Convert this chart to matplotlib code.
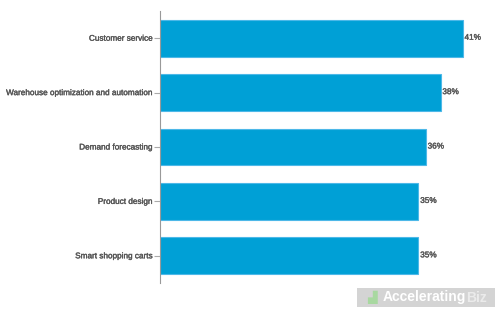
import matplotlib
matplotlib.use("Agg")
import matplotlib.pyplot as plt
import matplotlib.patheffects as pe
from matplotlib.patches import Rectangle

categories = ["Customer service", "Warehouse optimization and automation",
              "Demand forecasting", "Product design", "Smart shopping carts"]
values = [41, 38, 36, 35, 35]
labels = ["41%", "38%", "36%", "35%", "35%"]

plt.rcParams["font.family"] = ["Liberation Sans", "DejaVu Sans"]
thick = [pe.withStroke(linewidth=0.25, foreground="#555555")]

fig = plt.figure(figsize=(5.0, 3.13), dpi=100)
ax = fig.add_axes([0.32, 1 - 283/313, 0.66, (283 - 11)/313])
pos = list(range(len(categories)))
ax.barh(pos, values, height=0.68, color="#00a0d6", edgecolor="#4db8e8", linewidth=0.8)
ax.set_ylim(4.5, -0.5)
ax.set_xlim(0, 44.7)
ax.set_yticks(pos)
ax.set_yticklabels(categories, fontsize=5.9, color="#555555", path_effects=thick)
ax.tick_params(axis="y", length=4.3, color="#aaaaaa", width=0.8, pad=1.5)
ax.set_xticks([])
for s in ["top", "right", "bottom"]:
    ax.spines[s].set_visible(False)
ax.spines["left"].set_color("#999999")
ax.spines["left"].set_linewidth(0.8)
for p, v, l in zip(pos, values, labels):
    ax.text(v + 0.25, p, l, va="center", ha="left", fontsize=5.9, color="#555555",
            path_effects=thick)

# watermark
fig.patches.append(Rectangle((357/500, 1 - 307/313), 138/500, 19/313,
                             transform=fig.transFigure, facecolor="#d0d0d0",
                             edgecolor="none", alpha=0.9))
t1 = fig.text(383/500, 1 - 297.5/313, "Accelerating", fontsize=10, color="white",
              fontweight="bold", va="center", ha="left")
fig.canvas.draw()
bb = t1.get_window_extent()
fig.text(bb.x1 / fig.bbox.width, 1 - 297.5/313, "Biz", fontsize=10, color="#ebebeb",
         fontweight="bold", va="center", ha="left")
fig.text(367/500, 1 - 297.5/313, "▟", fontsize=9, color="#a8d8a0", va="center", ha="left",
         family="DejaVu Sans")
fig.savefig("out.png", dpi=100)
